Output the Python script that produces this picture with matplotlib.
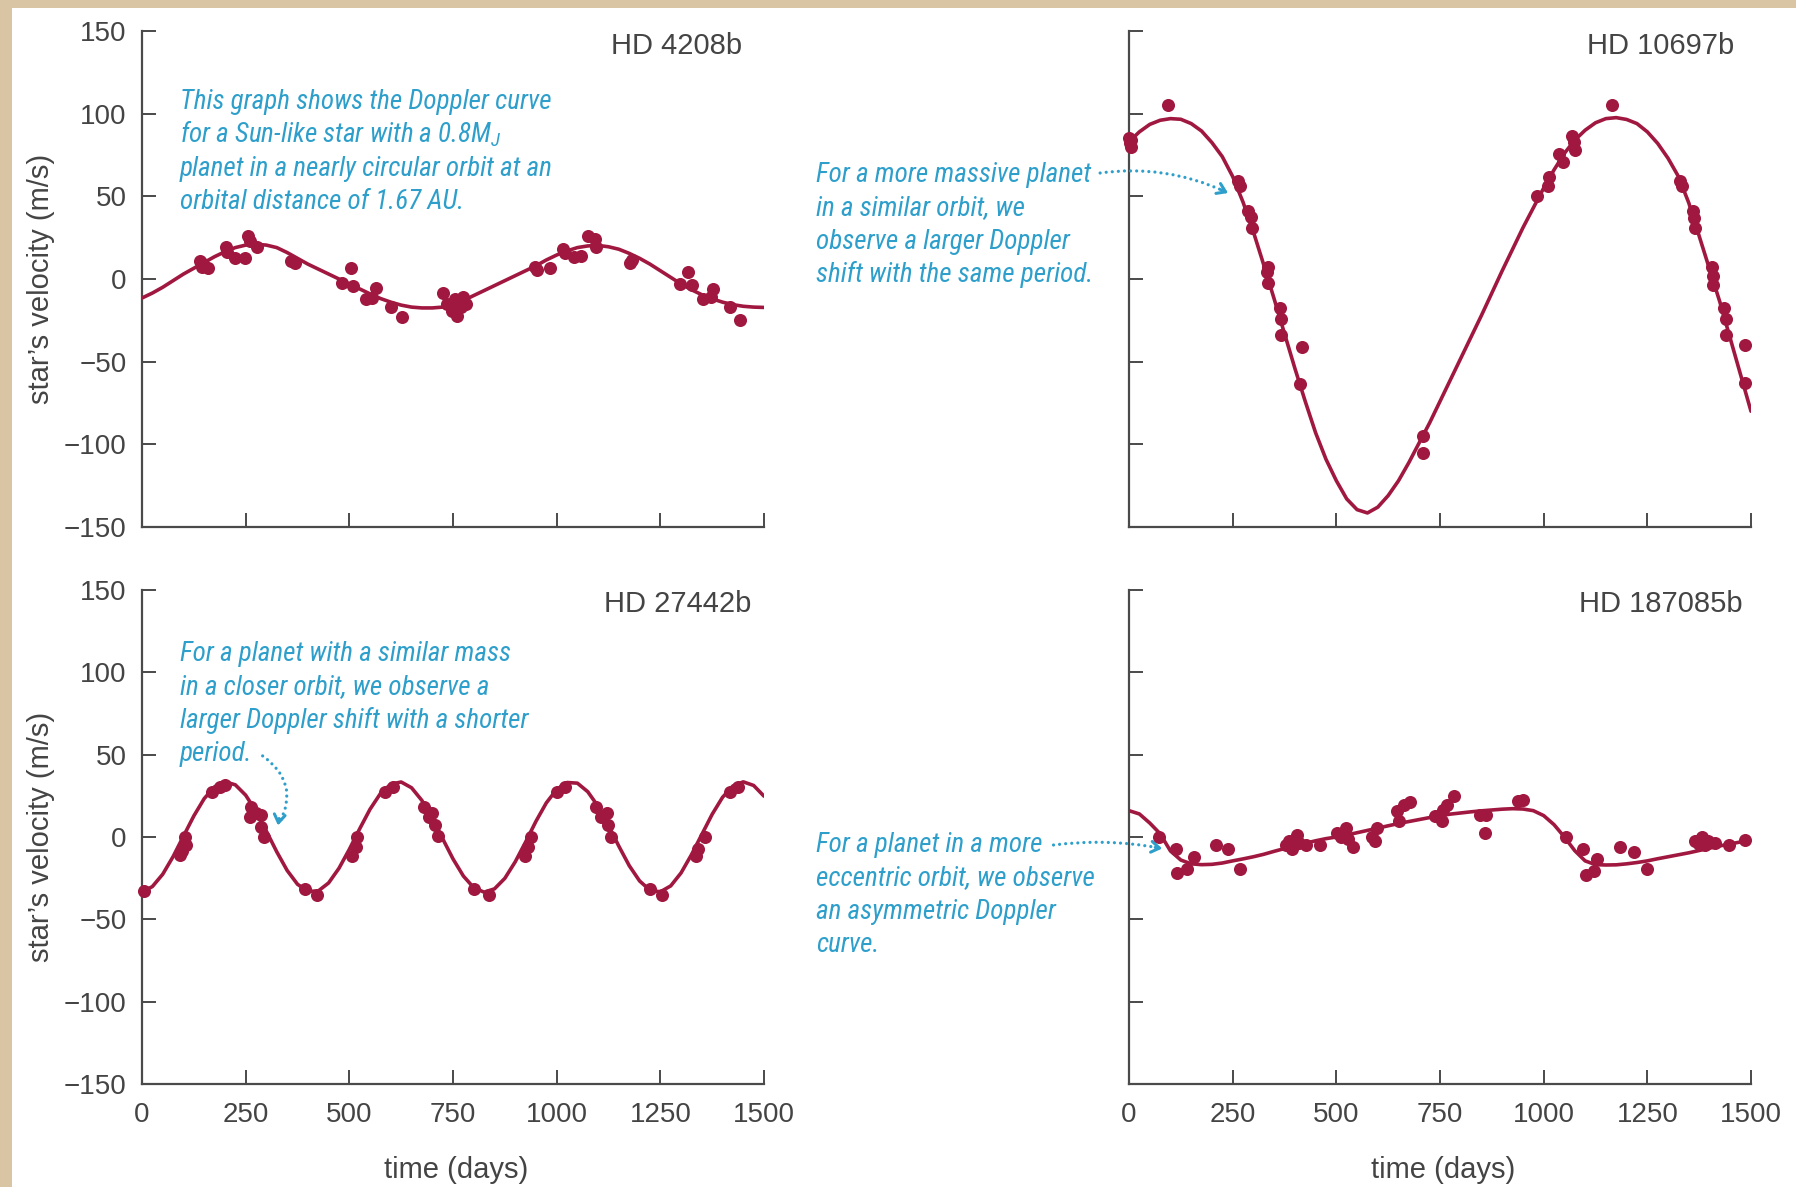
import matplotlib
matplotlib.use("Agg")
import matplotlib.pyplot as plt
import numpy as np
from matplotlib import font_manager
from matplotlib.patches import Rectangle

W, H = 1796, 1187

# model curves sampled every 25 days
curve_days = np.arange(0, 1501, 25)

a_curve = [-11.5, -8.5, -5, -1, 3, 6.5, 10, 13.5, 16.5, 19, 20.5, 21, 20.5, 19, 16,
           12.5, 9, 6, 3, 0, -3, -6, -9, -11.8, -14, -15.8, -17, -17.5, -17.5, -17,
           -15.5, -13, -10, -7, -4, -1, 2, 5, 8, 11.5, 14.5, 17, 19, 20, 20.3, 19.5,
           18, 15.5, 12.5, 9, 5, 1, -3, -6.5, -9.5, -12, -14, -15.5, -16.5, -17, -17.2]
b_curve = [83, 89, 93.5, 96, 97, 96.6, 94, 89.5, 82.5, 74, 62, 46.5, 28.5, 8.5, -12,
           -33, -54, -74, -93, -109, -122, -133, -139.5, -141.5, -138, -131, -122,
           -111, -99, -87, -74, -61, -48, -35, -22, -8.5, 5, 18, 31, 43, 55, 66, 76,
           84, 90, 94.5, 97, 97.6, 96.5, 94, 89, 82, 73, 62, 46, 26, 6, -14, -36,
           -58, -80]
c_curve = [-33.4, -30.1, -22.6, -11.9, 0.5, 12.8, 23.3, 30.5, 33.5, 31.7, 25.4, 15.6,
           3.5, -9.0, -20.3, -28.7, -33.0, -32.8, -27.9, -19.0, -7.5, 5.0, 16.9, 26.4,
           32.1, 33.4, 29.9, 22.2, 11.4, -1.0, -13.3, -23.7, -30.8, -33.5, -31.5,
           -25.1, -15.1, -3.1, 9.5, 20.7, 28.9, 33.1, 32.7, 27.5, 18.6, 7.0, -5.6,
           -17.4, -26.7, -32.3, -33.3, -29.7, -21.8, -10.8, 1.5, 13.8, 24.1, 31.0,
           33.5, 31.3, 24.8]
d_curve = [16, 14, 8.5, 2, -8.5, -14, -16.3, -16.8, -16.6, -15.8, -14.5, -13.3, -12,
           -10.5, -8.7, -7, -5.3, -3.8, -2.3, -1, 0, 1.2, 2.6, 4, 5.4, 6.8, 8.2, 9.4,
           10.6, 11.8, 12.9, 13.9, 14.6, 15.3, 15.9, 16.4, 16.9, 17.2, 17, 16, 13,
           7.5, 0, -8.3, -14.5, -16.8, -17, -16.9, -16.3, -15.5, -14.5, -13.2, -12,
           -10.8, -9.6, -8.2, -6.8, -5.4, -4.2, -3, -1.8]

# measured velocities
a_days = [139, 144, 148, 160, 203, 205, 224, 249, 255, 261, 277, 360, 369, 482, 504,
          510, 539, 554, 564, 600, 627, 726, 736, 748, 754, 760, 769, 775, 781, 947,
          953, 984, 1015, 1021, 1043, 1058, 1076, 1092, 1095, 1177, 1181, 1298, 1316,
          1326, 1353, 1372, 1378, 1417, 1442]
a_vel = [11.0, 7.4, 9.1, 6.7, 19.3, 16.5, 12.8, 12.8, 25.8, 23.2, 19.3, 10.6, 9.5,
         -2.4, 6.7, -4.5, -12.3, -11.5, -5.6, -16.7, -22.9, -8.4, -14.9, -19.5, -12.1,
         -22.3, -17.1, -11.0, -15.4, 7.4, 5.2, 6.7, 18.2, 16.0, 13.2, 13.9, 25.8, 24.2,
         19.3, 9.5, 11.7, -3.0, 4.1, -3.5, -12.1, -10.6, -6.3, -17.1, -24.7]

b_days = [0, 2, 4, 6, 95, 263, 268, 288, 294, 297, 332, 335, 335, 363, 366, 366, 412,
          417, 708, 708, 984, 1011, 1014, 1037, 1047, 1069, 1072, 1075, 1165, 1328,
          1333, 1359, 1363, 1366, 1405, 1408, 1408, 1436, 1439, 1439, 1485, 1485]
b_vel = [85, 82, 80, 84, 105, 59, 56, 41, 37.7, 31, 4, 7.4, -2.4, -17.5, -24, -33.8,
         -63.4, -41, -95, -105.4, 50, 56, 61.5, 75.5, 71, 86.4, 83, 78, 105, 59.3, 56,
         41, 36.6, 31, 7.4, 2, -3.5, -17.5, -24, -33.8, -39.8, -63]

c_days = [5, 91, 97, 103, 106, 168, 189, 199, 260, 263, 276, 288, 288, 295, 393, 423,
          506, 515, 519, 586, 605, 681, 691, 700, 707, 713, 801, 836, 924, 930, 939,
          1002, 1019, 1096, 1106, 1121, 1123, 1130, 1225, 1254, 1336, 1342, 1357,
          1418, 1438]
c_vel = [-32.5, -10.7, -8.3, 0.2, -5.1, 27.4, 30.3, 31.3, 12.4, 18.4, 14.3, 13.1, 6.3,
         0.2, -31.8, -35, -11.4, -5.8, 0.2, 27.4, 30.3, 18.2, 12.4, 14.8, 7.5, 0.7,
         -31.8, -35, -11.4, -5.8, 0.2, 27.4, 30.3, 18.2, 12.4, 14.3, 7.5, 0.2, -31.8,
         -35, -11.4, -7, 0.2, 27.4, 30.3]

d_days = [72, 113, 116, 141, 156, 210, 239, 267, 378, 386, 394, 406, 409, 427, 460,
          501, 512, 524, 528, 539, 585, 593, 597, 646, 651, 662, 677, 738, 754, 757,
          766, 784, 846, 858, 861, 938, 950, 1053, 1094, 1102, 1121, 1129, 1183, 1218,
          1249, 1366, 1374, 1381, 1389, 1397, 1413, 1446, 1485]
d_vel = [0.2, -7.5, -21.6, -19.7, -11.9, -5.1, -7.5, -19.2, -4.6, -2.2, -7.5, 1.5,
         -3.4, -5.1, -5.1, 2.7, 0.2, 5.6, -1.5, -5.8, 0.2, -2.2, 5.6, 16, 10, 19.2, 21,
         12.9, 10, 16.7, 19.7, 25, 13.6, 2.7, 13.6, 22.1, 22.6, 0.2, -7, -22.8, -20.4,
         -13.1, -5.8, -9, -19.2, -2.2, -4.1, 0, -5.1, -2.2, -3.4, -4.6, -1.7]

names = ["HD 4208b", "HD 10697b", "HD 27442b", "HD 187085b"]

note_a = ["This graph shows the Doppler curve",
          r"for a Sun-like star with a 0.8$M_J$",
          "planet in a nearly circular orbit at an",
          "orbital distance of 1.67 AU."]
note_b = ["For a more massive planet",
          "in a similar orbit, we",
          "observe a larger Doppler",
          "shift with the same period."]
note_c = ["For a planet with a similar mass",
          "in a closer orbit, we observe a",
          "larger Doppler shift with a shorter",
          "period."]
note_d = ["For a planet in a more",
          "eccentric orbit, we observe",
          "an asymmetric Doppler",
          "curve."]

RED = "#A01840"
CYAN = "#2E9FCB"
AXIS = "#4a4a4a"
TXT = "#444444"

avail = {f.name for f in font_manager.fontManager.ttflist}
if "Liberation Sans Narrow" in avail:
    NOTE_FONT, NOTE_SIZE = "Liberation Sans Narrow", 20
elif "Roboto Condensed" in avail:
    NOTE_FONT, NOTE_SIZE = "Roboto Condensed", 19.5
else:
    NOTE_FONT, NOTE_SIZE = "Roboto", 17

plt.rcParams["font.family"] = "Liberation Sans"
plt.rcParams["mathtext.fontset"] = "custom"
plt.rcParams["mathtext.it"] = NOTE_FONT + ":italic"
plt.rcParams["mathtext.rm"] = NOTE_FONT

fig = plt.figure(figsize=(W / 100, H / 100), dpi=100, facecolor="#D9C4A3")
fig.patches.append(Rectangle((12 / W, 0), 1, 1 - 8 / H, transform=fig.transFigure,
                             facecolor="white", edgecolor="none", zorder=-10))


def px(x, y):
    return x / W, 1 - y / H


rects = [[142 / W, 1 - 527 / H, 622 / W, 496 / H],
         [1129 / W, 1 - 527 / H, 622 / W, 496 / H],
         [142 / W, 1 - 1084 / H, 622 / W, 494 / H],
         [1129 / W, 1 - 1084 / H, 622 / W, 494 / H]]
title_pos = [(0.965, 0.954), (0.973, 0.954), (0.979, 0.955), (0.987, 0.955)]
data = [(a_days, a_vel, a_curve), (b_days, b_vel, b_curve),
        (c_days, c_vel, c_curve), (d_days, d_vel, d_curve)]

axes = []
for i in range(4):
    ax = fig.add_axes(rects[i])
    ax.set_facecolor("none")
    days, vel, curve = data[i]
    ax.plot(curve_days, curve, color=RED, lw=2.6, solid_capstyle="round", zorder=3)
    ax.plot(days, vel, "o", ms=9.4, color=RED, mec="none", clip_on=False, zorder=4)

    ax.set_xlim(0, 1500)
    ax.set_ylim(-150, 150)
    ax.set_xticks(np.arange(0, 1501, 250))
    ax.set_yticks(np.arange(-150, 151, 50))
    for s in ["top", "right"]:
        ax.spines[s].set_visible(False)
    for s in ["left", "bottom"]:
        ax.spines[s].set_color(AXIS)
        ax.spines[s].set_linewidth(1.6)
    ax.tick_params(direction="in", length=10, width=1.4, color=AXIS,
                   labelsize=20, labelcolor=TXT)
    ax.tick_params(axis="x", pad=13)
    ax.tick_params(axis="y", pad=11)
    if i < 2:
        ax.tick_params(labelbottom=False)
    else:
        ax.set_xlabel("time (days)", fontsize=21, color=TXT, va="center")
        ax.xaxis.set_label_coords(0.505, -0.174)
    if i % 2 == 1:
        ax.tick_params(labelleft=False)
    else:
        ax.set_ylabel("star\u2019s velocity (m/s)", fontsize=21, color=TXT, va="center")
        ax.yaxis.set_label_coords(-0.162, 0.5)

    ax.text(title_pos[i][0], title_pos[i][1], names[i], transform=ax.transAxes,
            ha="right", va="baseline", fontsize=21, color=TXT)
    axes.append(ax)


def add_note(lines, x, y0, step=33.3):
    txts = []
    for k, line in enumerate(lines):
        t = fig.text(*px(x, y0 + k * step), line, fontsize=NOTE_SIZE, color=CYAN,
                     family=NOTE_FONT, style="italic", ha="left", va="baseline")
        txts.append(t)
    return txts


notes = [add_note(note_a, 180, 109), add_note(note_b, 816, 182),
         add_note(note_c, 180, 661), add_note(note_d, 816, 852)]

fig.canvas.draw()
renderer = fig.canvas.get_renderer()


def dotted_arrow(ax, txt, gap, lift, tip, rad, head):
    ext = txt.get_window_extent(renderer)
    bx, by = txt.get_transform().transform(txt.get_position())
    start = (ext.x1 + gap, by + lift)
    ax.annotate("", xy=tip, xycoords="data", xytext=start, textcoords="figure pixels",
                arrowprops=dict(arrowstyle="-", connectionstyle="arc3,rad=%s" % rad,
                                color=CYAN, lw=2.3, linestyle=(0, (0.01, 1.9)),
                                capstyle="round", shrinkA=0, shrinkB=3))
    ax.annotate("", xy=tip, xycoords="data", xytext=head, textcoords="offset points",
                arrowprops=dict(arrowstyle="->,head_length=0.45,head_width=0.3",
                                color=CYAN, lw=2.2, shrinkA=0, shrinkB=0,
                                mutation_scale=13))


dotted_arrow(axes[1], notes[1][0], 9, 9, (239, 52), -0.15, (-5, 2.3))
dotted_arrow(axes[2], notes[2][3], 10, 5, (328, 7), -0.45, (0.8, 5))
dotted_arrow(axes[3], notes[3][0], 11, 7, (80, -7), -0.08, (-5, 0.8))

fig.savefig("out.png", dpi=100, facecolor=fig.get_facecolor())
